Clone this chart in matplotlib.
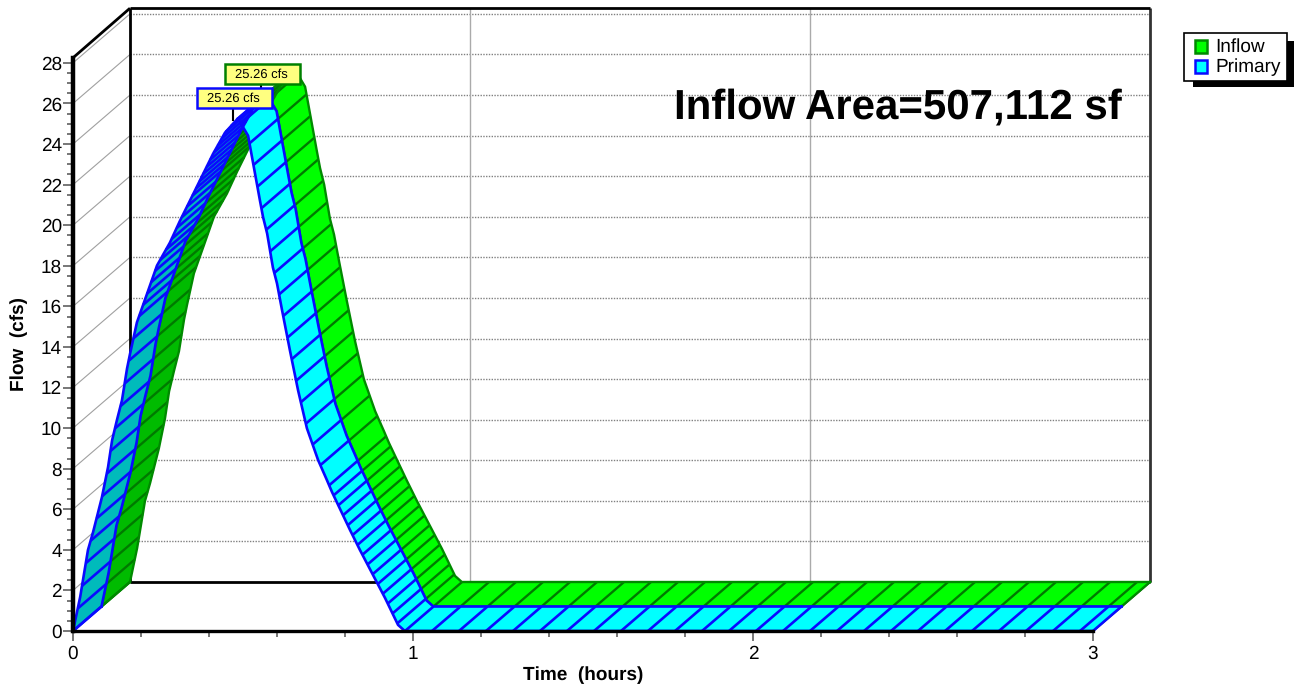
import numpy as np
import matplotlib
matplotlib.use("Agg")
import matplotlib.pyplot as plt
from matplotlib.patches import Rectangle, Polygon
from matplotlib.ticker import MultipleLocator
from matplotlib.transforms import IdentityTransform

plt.rcParams['font.family'] = ['Liberation Sans', 'DejaVu Sans']
plt.rcParams['text.hinting'] = 'no_hinting'
plt.rcParams['text.hinting_factor'] = 1

# --- data -------------------------------------------------------------
time_h = [0, .021, .044, .059, .085, .103, .115, .129, .144, .159, .168, .188, .218, .247,
          .285, .315, .344, .412, .447, .485, .515, .55, .559, .571, .588, .6, .615, .638,
          .662, .688, .721, .747, .762, .815, .844, .918, .956, .976, 3.0]
flow_cfs = [0, 1.67, 3.99, 4.87, 6.59, 8.07, 9.40, 10.38, 11.37, 12.94, 13.68, 15.21, 16.63, 18.01,
            19.14, 20.23, 21.21, 23.52, 24.56, 25.26, 24.41, 21.2, 20.4, 19.59, 17.91, 17.13, 15.80, 13.83,
            11.86, 9.99, 8.42, 7.43, 6.84, 4.97, 3.99, 1.62, .30, 0, 0]
series_names = ['Inflow', 'Primary']
peak_labels = ['25.26 cfs', '25.26 cfs']
y_ticks = list(range(0, 29, 2))
x_ticks = [0, 1, 2, 3]
title_text = 'Inflow Area=507,112 sf'

W, H = 1294, 688
PX_Q = 20.29
DEPTH_T, DEPTH_Q = 57 / 340 / 2, 49 / PX_Q / 2   # one ribbon's depth in data units
YMAX = 28.25

fig = plt.figure(figsize=(W / 100, H / 100), dpi=100, facecolor='white')
ax = fig.add_axes([73 / W, (H - 631) / H, 1020 / W, YMAX * PX_Q / H])
ax.set_xlim(0, 3)
ax.set_ylim(0, YMAX)
ax.patch.set_alpha(0)
for s in ['top', 'right']:
    ax.spines[s].set_visible(False)
ax.spines['left'].set_linewidth(3.2)
ax.spines['bottom'].set_linewidth(2.4)
ax.spines['left'].set_zorder(20)
ax.spines['bottom'].set_zorder(20)

T, Q = np.array(time_h), np.array(flow_cfs)
ipk = int(np.argmax(Q))
DT, DQ = 2 * DEPTH_T, 2 * DEPTH_Q
kw = dict(clip_on=False, solid_capstyle='butt')

# back wall and floor
for q in y_ticks:
    ax.plot([0, DT], [q, q + DQ], color='#a0a0a0', lw=0.8, zorder=1, **kw)
    if q:
        ax.plot([DT, 3 + DT], [q + DQ, q + DQ], color='#808080', lw=1.0, ls=(0, (1, 1)), zorder=1,
                clip_on=False)
TOP = YMAX + .03 + DQ
for t in x_ticks[1:3]:
    ax.plot([t + DT, t + DT], [DQ, TOP], color='#aaaaaa', lw=1.0, zorder=1, **kw)
ax.plot([DT, DT], [DQ, TOP], color='black', lw=2, zorder=2, **kw)
ax.plot([3 + DT, 3 + DT], [DQ, TOP], color='#333333', lw=2, zorder=2, **kw)
ax.plot([DT, 3 + DT], [TOP, TOP], color='black', lw=2, zorder=2, **kw)
ax.plot([DT, 3 + DT], [DQ, DQ], color='black', lw=2, zorder=2, **kw)
ax.plot([0, DT], [YMAX, TOP], color='black', lw=2, zorder=2, **kw)
ax.plot([3, 3 + DT], [0, DQ], color='#333333', lw=1.5, zorder=2, **kw)


def spacing(i):
    """stripe spacing in pixels along the curve"""
    if i < ipk:
        if Q[i] < 15:
            return 23
        return 12 if Q[i] < 21 else 8
    if Q[i] > 8:
        return 22
    if Q[i] > 0:
        return 11
    return 27


def stripe_params():
    pts = ax.transData.transform(np.column_stack([T, Q]))
    out = []
    pos = 0.0
    for i in range(len(T) - 1):
        seg = np.hypot(*(pts[i + 1] - pts[i]))
        cur = pos
        while cur < seg:
            f = cur / seg
            out.append((T[i] + f * (T[i + 1] - T[i]), Q[i] + f * (Q[i + 1] - Q[i]), i))
            cur += spacing(i)
        pos = cur - seg
    return out


def ribbon(level, bright, dark, edge, stripe, lw_edge, z):
    off_t, off_q = level * DEPTH_T, level * DEPTH_Q
    front = np.column_stack([T + off_t, Q + off_q])
    back = np.column_stack([T + off_t + DEPTH_T, Q + off_q + DEPTH_Q])
    # falling & flat limb first, rising limb on top of it
    for a, b, col in [(ipk, len(T), bright), (0, ipk + 1, dark)]:
        verts = np.vstack([front[a:b], back[a:b][::-1]])
        ax.add_patch(Polygon(verts, closed=True, facecolor=col, edgecolor='none',
                             clip_on=False, zorder=z))
        for t, q, i in stripe_params():
            if a <= i < b - 1:
                ax.plot([t + off_t, t + off_t + DEPTH_T], [q + off_q, q + off_q + DEPTH_Q],
                        color=stripe, lw=lw_edge, zorder=z + .1, **kw)
    for i in (ipk, -1, 0):
        ax.plot([front[i, 0], back[i, 0]], [front[i, 1], back[i, 1]], color=edge,
                lw=lw_edge, zorder=z + .2, clip_on=False)
    ax.plot(front[:, 0], front[:, 1], color=edge, lw=lw_edge, zorder=z + .2, clip_on=False)
    ax.plot(back[:, 0], back[:, 1], color=edge, lw=lw_edge, zorder=z + .2, clip_on=False)


ribbon(1, '#00ff00', '#00bb00', '#008a00', '#007a00', 1.7, 5)
ribbon(0, '#00ffff', '#00bbbb', '#0a0aff', '#0a0aff', 1.9, 7)

# axes
ax.set_xticks(x_ticks)
ax.set_yticks(y_ticks)
ax.xaxis.set_minor_locator(MultipleLocator(0.2))
ax.yaxis.set_minor_locator(MultipleLocator(0.5))
ax.tick_params(axis='both', which='major', color='#777777', labelsize=13.5, labelcolor='black')
ax.tick_params(axis='y', which='major', length=7.5, width=1.4, pad=0.5)
ax.tick_params(axis='x', which='major', length=7.5, width=1.4, pad=2.5)
ax.tick_params(axis='y', which='minor', length=4, width=1.4, color='#777777')
ax.tick_params(axis='x', which='minor', length=4.5, width=1.4, color='#777777')
ax.set_xlabel('Time  (hours)', fontweight='bold', fontsize=13.5, va='center')
ax.xaxis.set_label_coords(510 / 1020, (631 - 675) / (YMAX * PX_Q))
ax.set_ylabel('Flow  (cfs)', fontweight='bold', fontsize=13.5, va='center')
ax.yaxis.set_label_coords((19 - 73) / 1020, (631 - 344) / (YMAX * PX_Q))

ITR = IdentityTransform()


def rect(x0, y0, x1, y1, **k):
    fig.add_artist(Rectangle((x0, H - y1), x1 - x0, y1 - y0, transform=ITR, **k))


def txt(x, y, s, **k):
    fig.text(x, H - y, s, transform=ITR, **k)


# title
txt(1122, 107.5, title_text, fontweight='bold', fontsize=30.4, ha='right', va='center', zorder=30)

# peak labels
peak_boxes = [(225, 64, 300, 84, '#008000', 261, 84, 90),
              (197, 88, 272, 108, '#0a0aff', 233, 108, 120)]
for lab, (x0, y0, x1, y1, ec, lx, ly0, ly1) in zip(peak_labels, peak_boxes):
    fig.add_artist(plt.Line2D([lx, lx], [H - ly0, H - ly1], transform=ITR, color='black', lw=1.5, zorder=29))
    rect(x0, y0, x1, y1, facecolor='#ffff80', edgecolor=ec, lw=1.8, zorder=30)
    txt((x0 + x1) / 2 - 1.5, (y0 + y1) / 2 + .5, lab, fontsize=9.6, ha='center', va='center', zorder=31)

# legend
rect(1193, 41, 1294, 87, facecolor='black', edgecolor='none', zorder=30)
rect(1184, 33, 1287, 81, facecolor='white', edgecolor='black', lw=1.2, zorder=31)
for name, y, fc, ec in zip(series_names, [46, 66], ['#00ff00', '#00ffff'], ['#008a00', '#0a0aff']):
    rect(1195, y - 6.5, 1207, y + 6.5, facecolor=fc, edgecolor=ec, lw=1.8, zorder=32)
    txt(1215.5, y + 1, name, fontsize=13.5, ha='left', va='center', zorder=32)

fig.savefig('out.png', dpi=100)
